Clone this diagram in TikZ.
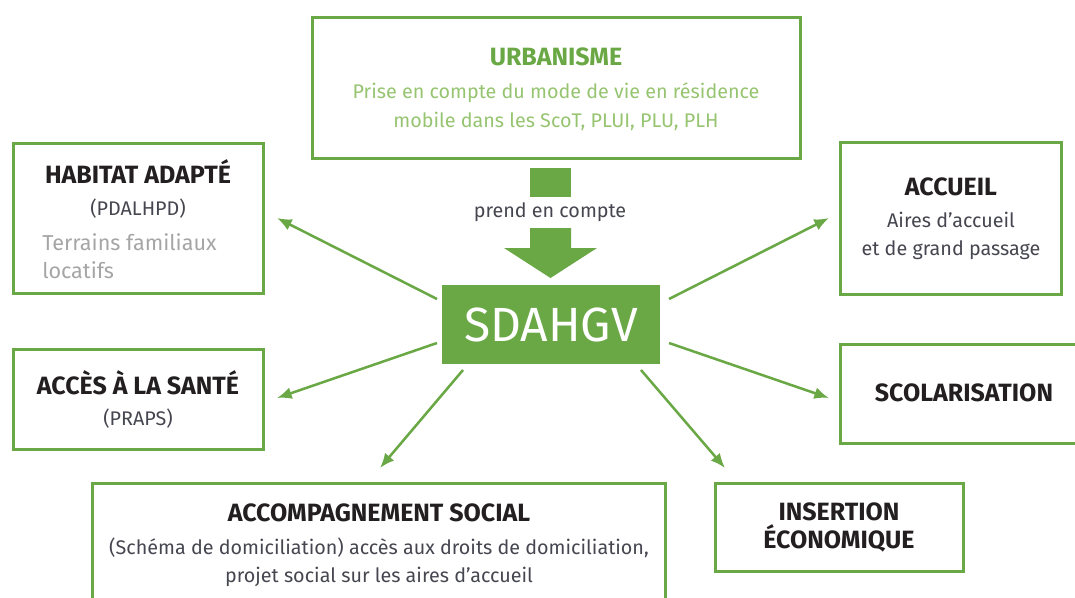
\documentclass[tikz,border=0pt]{standalone}
\usepackage{fontspec}
\setmainfont{Fira Sans}
\usetikzlibrary{arrows.meta}
\definecolor{leaf}{RGB}{106,168,70}
\definecolor{pale}{RGB}{150,196,112}
\definecolor{ink}{RGB}{35,31,32}
\definecolor{soft}{RGB}{70,70,80}
\definecolor{mist}{RGB}{165,165,165}

\begin{document}
\begin{tikzpicture}[x=0.75pt,y=-0.75pt,
		box/.style={draw=leaf,line width=2.25pt,inner sep=0pt},
		title/.style={font=\bfseries\fontsize{18.75}{21}\selectfont,text=ink,align=center,inner sep=0pt},
		body/.style={font=\fontsize{14.8}{21}\selectfont,text=soft,align=center,inner sep=0pt},
		link/.style={draw=leaf,line width=1.9pt,-{Latex[length=11pt,width=9pt]}}]
			\useasboundingbox (0,0) rectangle (1075,597);
			\clip (0,0) rectangle (1075,597);
			% boxes
			\node[box,minimum width=366pt,minimum height=105.75pt] (urban) at (556,87.5) {};
			\node[box,minimum width=187.5pt,minimum height=112.5pt] (habitat) at (138,218) {};
			\node[box,minimum width=187.5pt,minimum height=75pt] (sante) at (138,399) {};
			\node[box,minimum width=165.75pt,minimum height=114pt] (accueil) at (950.5,218) {};
			\node[box,minimum width=195pt,minimum height=74.25pt] (scol) at (970,393.5) {};
			\node[box,minimum width=429.75pt,minimum height=102.75pt] (accomp) at (378.5,551.5) {};
			\node[box,minimum width=186pt,minimum height=66pt] (insert) at (839,527) {};
			\node[fill=leaf,text=white,minimum width=163.5pt,minimum height=59.25pt,inner sep=0pt,
				font=\fontsize{36}{40}\selectfont] (sdahgv) at (551,324.5) {SDAHGV};
			% texts
			\node[title,text=leaf] (urbant) at (556,57) {URBANISME};
			\node[body,text=pale,font=\fontsize{14.8}{21.75}\selectfont] (urbanb) at (556,106.5)
				{Prise en compte du mode de vie en résidence\\mobile dans les ScoT, PLUI, PLU, PLH};
			\node[title] (habitatt) at (138,172) {HABITAT ADAPTÉ};
			\node[body] (habitatb) at (138,209) {(PDALHPD)};
			\node[body,text=mist,align=left,anchor=west,font=\fontsize{16.2}{21}\selectfont] (habitatc) at (42,256)
				{Terrains familiaux\\locatifs};
			\node[title] (santet) at (138,383) {ACCÈS À LA SANTÉ};
			\node[body] (santeb) at (138,419) {(PRAPS)};
			\node[title] (accueilt) at (951,187) {ACCUEIL};
			\node[body] (accueilb) at (951,236) {Aires d’accueil\\et de grand passage};
			\node[title] (scolt) at (964,393) {SCOLARISATION};
			\node[title] (accompt) at (379,513) {ACCOMPAGNEMENT SOCIAL};
			\node[body] (accompb) at (379,562)
				{(Schéma de domiciliation) accès aux droits de domiciliation,\\projet social sur les aires d’accueil};
			\node[title] (insertt) at (839,527) {INSERTION\\ÉCONOMIQUE};
			\node[body] (prend) at (550,212) {prend en compte};
			% big arrow
			\fill[leaf] (530,168) rectangle (571,197);
			\fill[leaf] (530,228) -- (571,228) -- (571,248) -- (597,248) -- (550.5,278)
				-- (504,248) -- (530,248) -- cycle;
			% arrows
			\coordinate (s-hab) at (437,299);   \coordinate (t-hab) at (277,218);
			\coordinate (s-san) at (437,343);   \coordinate (t-san) at (277,398);
			\coordinate (s-acc) at (463,370);   \coordinate (t-acc) at (380,468);
			\coordinate (s-ins) at (641,370);   \coordinate (t-ins) at (725,468);
			\coordinate (s-aue) at (669,299);   \coordinate (t-aue) at (829,218);
			\coordinate (s-sco) at (669,343);   \coordinate (t-sco) at (829,398);
			\foreach \k in {hab, san, acc, ins, aue, sco}
				\draw[link] (s-\k) -- (t-\k);
		\end{tikzpicture}
\end{document}
